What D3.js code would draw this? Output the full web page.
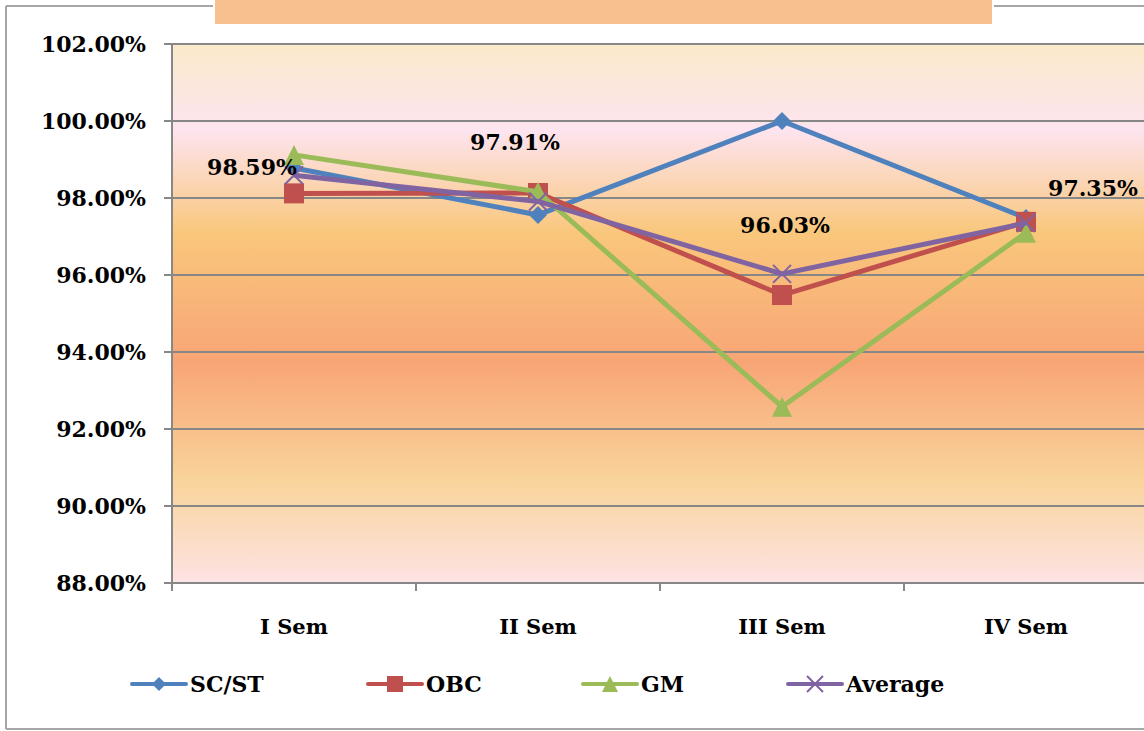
<!DOCTYPE html>
<html><head><meta charset="utf-8">
<script src="https://cdn.jsdelivr.net/npm/d3@7"></script>
<style>body{margin:0;background:#fff}svg{display:block}</style>
</head><body>
<svg id="c" width="1144" height="731"></svg>
<script>
const categories = ["I Sem","II Sem","III Sem","IV Sem"];
const scst    = [0.9878, 0.9756, 1.0000, 0.9748];
const obc     = [0.9812, 0.9813, 0.9548, 0.9738];
const gm      = [0.9912, 0.9816, 0.9258, 0.9710];
const average = [0.9859, 0.9791, 0.9603, 0.9735];
const avgLabels = ["98.59%","97.91%","96.03%","97.35%"];
const yTicks = [0.88,0.90,0.92,0.94,0.96,0.98,1.00,1.02];
const seriesNames = ["SC/ST","OBC","GM","Average"];

const colors = ["#4F81BD","#C0504D","#9BBB59","#8064A2"];
const markers = ["diamond","square","triangle","x"];
const labelOffsets = [[-42,0],[-23,-51],[3,-41],[67,-27]];
const font = "'DejaVu Serif', serif";

const svg = d3.select("#c");
const L=172,R=1148,T=44,B=583;
const x = d3.scaleBand().domain(categories).range([L,R]).padding(0);
const y = d3.scaleLinear().domain([0.88,1.02]).range([B,T]);
const cx = c => x(c)+x.bandwidth()/2;

// gradient
const defs = svg.append("defs");
const g = defs.append("linearGradient").attr("id","bg").attr("x1",0).attr("y1",0).attr("x2",0).attr("y2",1);
[[0,"#FAEACB"],[0.16,"#FDE4EF"],[0.35,"#F9C77C"],[0.59,"#F8A576"],[0.81,"#F9D49B"],[1,"#FDE3E4"]]
  .forEach(s=>g.append("stop").attr("offset",s[0]).attr("stop-color",s[1]));

// outer frame
const frame="#A6A6A6";
svg.append("line").attr("x1",6).attr("x2",213).attr("y1",6).attr("y2",6).attr("stroke",frame).attr("stroke-width",2);
svg.append("line").attr("x1",994).attr("x2",1144).attr("y1",6).attr("y2",6).attr("stroke",frame).attr("stroke-width",2);
svg.append("line").attr("x1",6).attr("x2",6).attr("y1",6).attr("y2",729).attr("stroke",frame).attr("stroke-width",2);
svg.append("line").attr("x1",6).attr("x2",1144).attr("y1",729).attr("y2",729).attr("stroke",frame).attr("stroke-width",2);
svg.append("rect").attr("x",215).attr("y",0).attr("width",777).attr("height",24).attr("fill","#F8C08F");

// plot background
svg.append("rect").attr("x",L).attr("y",T).attr("width",R-L).attr("height",B-T).attr("fill","url(#bg)");

// gridlines
svg.append("g").selectAll("line").data(yTicks).join("line")
  .attr("x1",164).attr("x2",R).attr("y1",d=>y(d)).attr("y2",d=>y(d))
  .attr("stroke","#878787").attr("stroke-width",2);
// y axis line
svg.append("line").attr("x1",L).attr("x2",L).attr("y1",T).attr("y2",B+8).attr("stroke","#878787").attr("stroke-width",2);
// x ticks
svg.append("g").selectAll("line").data(categories).join("line")
  .attr("x1",d=>x(d)+x.bandwidth()).attr("x2",d=>x(d)+x.bandwidth()).attr("y1",B).attr("y2",B+8)
  .attr("stroke","#878787").attr("stroke-width",2);

// y labels
svg.append("g").selectAll("text").data(yTicks).join("text")
  .attr("x",146).attr("y",d=>y(d)+8).attr("text-anchor","end")
  .attr("font-family",font).attr("font-weight","bold").attr("font-size",22).attr("fill","#000")
  .text(d=>d3.format(".2%")(d));
// x labels
svg.append("g").selectAll("text").data(categories).join("text")
  .attr("x",d=>cx(d)).attr("y",634).attr("text-anchor","middle")
  .attr("font-family",font).attr("font-weight","bold").attr("font-size",21).attr("fill","#000")
  .text(d=>d);

function marker(sel, type, color, s){
  if(type==="diamond") sel.append("path").attr("d",`M0,${-s/2}L${s/2},0L0,${s/2}L${-s/2},0Z`).attr("fill",color);
  else if(type==="square") sel.append("rect").attr("x",-s/2).attr("y",-s/2).attr("width",s).attr("height",s).attr("fill",color);
  else if(type==="triangle") sel.append("path").attr("d",`M0,${-s/2}L${s/2},${s/2}L${-s/2},${s/2}Z`).attr("fill",color);
  else { const h=s/2; sel.append("path").attr("d",`M${-h},${-h}L${h},${h}M${-h},${h}L${h},${-h}`).attr("stroke",color).attr("stroke-width",2).attr("fill","none"); }
}

const allSeries=[scst,obc,gm,average];
const line = d3.line().x((d,i)=>cx(categories[i])).y(d=>y(d));
allSeries.forEach((vals,k)=>{
  svg.append("path").datum(vals).attr("d",line).attr("fill","none")
    .attr("stroke",colors[k]).attr("stroke-width",5).attr("stroke-linejoin","round");
  vals.forEach((v,i)=>{
    const gm_ = svg.append("g").attr("transform",`translate(${cx(categories[i])},${y(v)})`);
    marker(gm_, markers[k], colors[k], markers[k]==="diamond"?18:(markers[k]==="x"?18:20));
  });
});

// average labels
svg.append("g").selectAll("text").data(average).join("text")
  .attr("x",(d,i)=>cx(categories[i])+labelOffsets[i][0])
  .attr("y",(d,i)=>y(d)+labelOffsets[i][1])
  .attr("text-anchor","middle")
  .attr("font-family",font).attr("font-weight","bold").attr("font-size",22).attr("fill","#000")
  .text((d,i)=>avgLabels[i]);

// legend
const legX=[132,368,583,788];
seriesNames.forEach((n,k)=>{
  const lg=svg.append("g").attr("transform",`translate(${legX[k]},684)`);
  lg.append("line").attr("x1",0).attr("x2",54).attr("y1",0).attr("y2",0).attr("stroke",colors[k]).attr("stroke-width",4).attr("stroke-linecap","round");
  const m=lg.append("g").attr("transform","translate(27,0)");
  marker(m, markers[k], colors[k], markers[k]==="diamond"?14:16);
  lg.append("text").attr("x",58).attr("y",8).attr("font-family",font).attr("font-weight","bold")
    .attr("font-size",22).attr("fill","#000").text(n);
});
</script>
</body></html>
